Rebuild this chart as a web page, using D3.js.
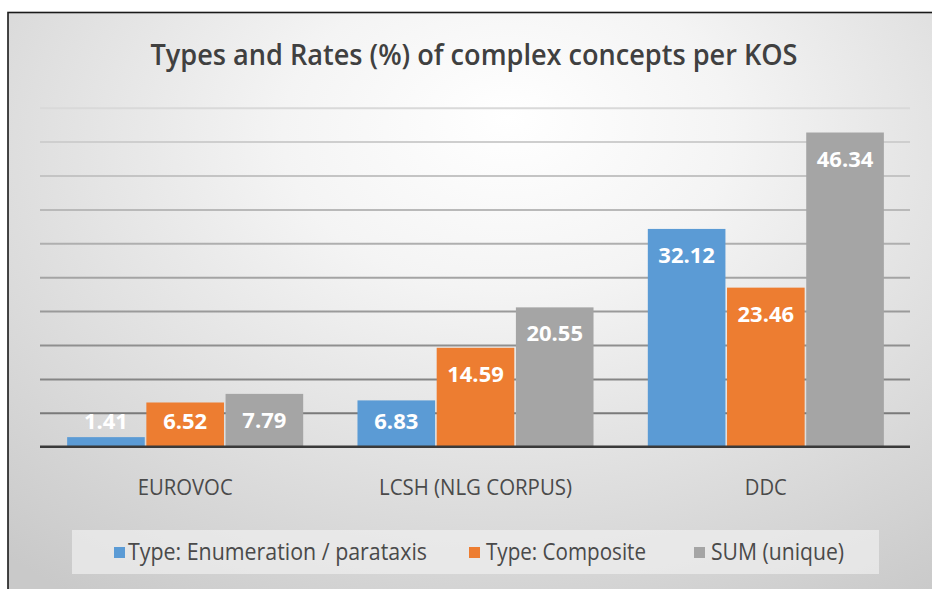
<!DOCTYPE html>
<html>
<head>
<meta charset="utf-8">
<script src="https://cdn.jsdelivr.net/npm/d3@7"></script>
<style>
  body { margin: 0; background: #fff; }
  text { font-family: "Open Sans", "Noto Sans", sans-serif; }
</style>
</head>
<body>
<div id="chart"></div>
<script>
// data
const categories = ["EUROVOC", "LCSH (NLG CORPUS)", "DDC"];
const seriesNames = ["Type: Enumeration / parataxis", "Type: Composite", "SUM (unique)"];
const enumeration = [1.41, 6.83, 32.12];
const composite = [6.52, 14.59, 23.46];
const sumUnique = [7.79, 20.55, 46.34];
const yTicks = [0, 5, 10, 15, 20, 25, 30, 35, 40, 45, 50];
const colors = ["#5b9bd5", "#ed7d31", "#a5a5a5"];

const seriesValues = [enumeration, composite, sumUnique];
const rows = categories.map((c, i) => ({
  cat: c,
  vals: seriesNames.map((s, j) => ({ key: s, idx: j, value: seriesValues[j][i] }))
}));

const W = 932, H = 589;
const svg = d3.select("#chart").append("svg")
  .attr("width", W)
  .attr("height", H);

// background gradient
const defs = svg.append("defs");
const grad = defs.append("radialGradient")
  .attr("id", "bg")
  .attr("cx", "50%").attr("cy", "22%").attr("r", "75%")
  .attr("fx", "50%").attr("fy", "15%");
grad.append("stop").attr("offset", "0%").attr("stop-color", "#ffffff");
grad.append("stop").attr("offset", "30%").attr("stop-color", "#f4f4f4");
grad.append("stop").attr("offset", "100%").attr("stop-color", "#c9c9c9");

svg.append("rect")
  .attr("x", 8).attr("y", 12.5)
  .attr("width", 1000).attr("height", 700)
  .attr("fill", "url(#bg)")
  .attr("stroke", "#1a1a1a")
  .attr("stroke-width", 1.6);

// scales
const x0 = d3.scaleBand().domain(categories).range([40, 911])
  .paddingInner(0.187).paddingOuter(0.0935);
const x1 = d3.scaleBand().domain(seriesNames).range([0, x0.bandwidth()])
  .paddingInner(0.02);
const y = d3.scaleLinear().domain([0, 50]).range([446.7, 107.7]);
const gridShade = d3.scaleLinear().domain([5, 50]).range(["#7a7a7a", "#d9d9d9"]);

// gridlines
const grid = svg.append("g")
  .attr("transform", "translate(40,0)")
  .call(d3.axisLeft(y).tickValues(yTicks.slice(1)).tickSize(-870).tickFormat(""));
grid.select(".domain").remove();
grid.selectAll(".tick line")
  .attr("stroke", d => gridShade(d))
  .attr("stroke-width", 2);

// title
svg.append("text")
  .attr("x", 474).attr("y", 65)
  .attr("text-anchor", "middle")
  .attr("font-size", 28)
  .attr("font-weight", 600)
  .attr("fill", "#404040")
  .attr("textLength", 647)
  .attr("lengthAdjust", "spacingAndGlyphs")
  .text("Types and Rates (%) of complex concepts per KOS");

// bars
const groups = svg.selectAll(".grp")
  .data(rows)
  .enter().append("g")
  .attr("class", "grp")
  .attr("transform", d => `translate(${x0(d.cat)},0)`);

groups.selectAll("rect")
  .data(d => d.vals)
  .enter().append("rect")
  .attr("x", d => x1(d.key))
  .attr("y", d => y(d.value))
  .attr("width", x1.bandwidth())
  .attr("height", d => y(0) - y(d.value))
  .attr("fill", d => colors[d.idx]);

groups.selectAll(".lbl")
  .data(d => d.vals)
  .enter().append("text")
  .attr("class", "lbl")
  .attr("x", d => x1(d.key) + x1.bandwidth() / 2)
  .attr("y", d => Math.min(y(d.value) + 34, y(0) - 18))
  .attr("text-anchor", "middle")
  .attr("font-size", 22)
  .attr("font-weight", "bold")
  .attr("fill", "#ffffff")
  .text(d => d.value.toFixed(2));

// x axis
const catW = [95, 193, 42];
const xAxis = svg.append("g")
  .attr("transform", `translate(0,${y(0)})`)
  .call(d3.axisBottom(x0).tickSize(0));
xAxis.select(".domain")
  .attr("stroke", "#3a3a3a")
  .attr("stroke-width", 2.6)
  .attr("d", "M40,0H910");
xAxis.selectAll("text")
  .attr("y", 48)
  .attr("dy", 0)
  .attr("font-size", 21)
  .attr("font-family", "'Open Sans', sans-serif")
  .attr("fill", "#4a4a4a")
  .attr("textLength", (d, i) => catW[i])
  .attr("lengthAdjust", "spacingAndGlyphs");

// legend
svg.append("rect")
  .attr("x", 72).attr("y", 530)
  .attr("width", 807).attr("height", 44)
  .attr("fill", "#efefef")
  .attr("fill-opacity", 0.7);

const legendX = [114, 469, 694];
const legendW = [299, 160, 133];
const leg = svg.selectAll(".leg")
  .data(seriesNames)
  .enter().append("g")
  .attr("class", "leg")
  .attr("transform", (d, i) => `translate(${legendX[i]},0)`);
leg.append("rect")
  .attr("x", 0).attr("y", 547)
  .attr("width", 11).attr("height", 11)
  .attr("fill", (d, i) => colors[i]);
leg.append("text")
  .attr("x", (d, i) => i === 0 ? 14 : 17)
  .attr("y", 560)
  .attr("font-size", 24)
  .attr("fill", "#4a4a4a")
  .attr("textLength", (d, i) => legendW[i])
  .attr("lengthAdjust", "spacingAndGlyphs")
  .text(d => d);
</script>
</body>
</html>
